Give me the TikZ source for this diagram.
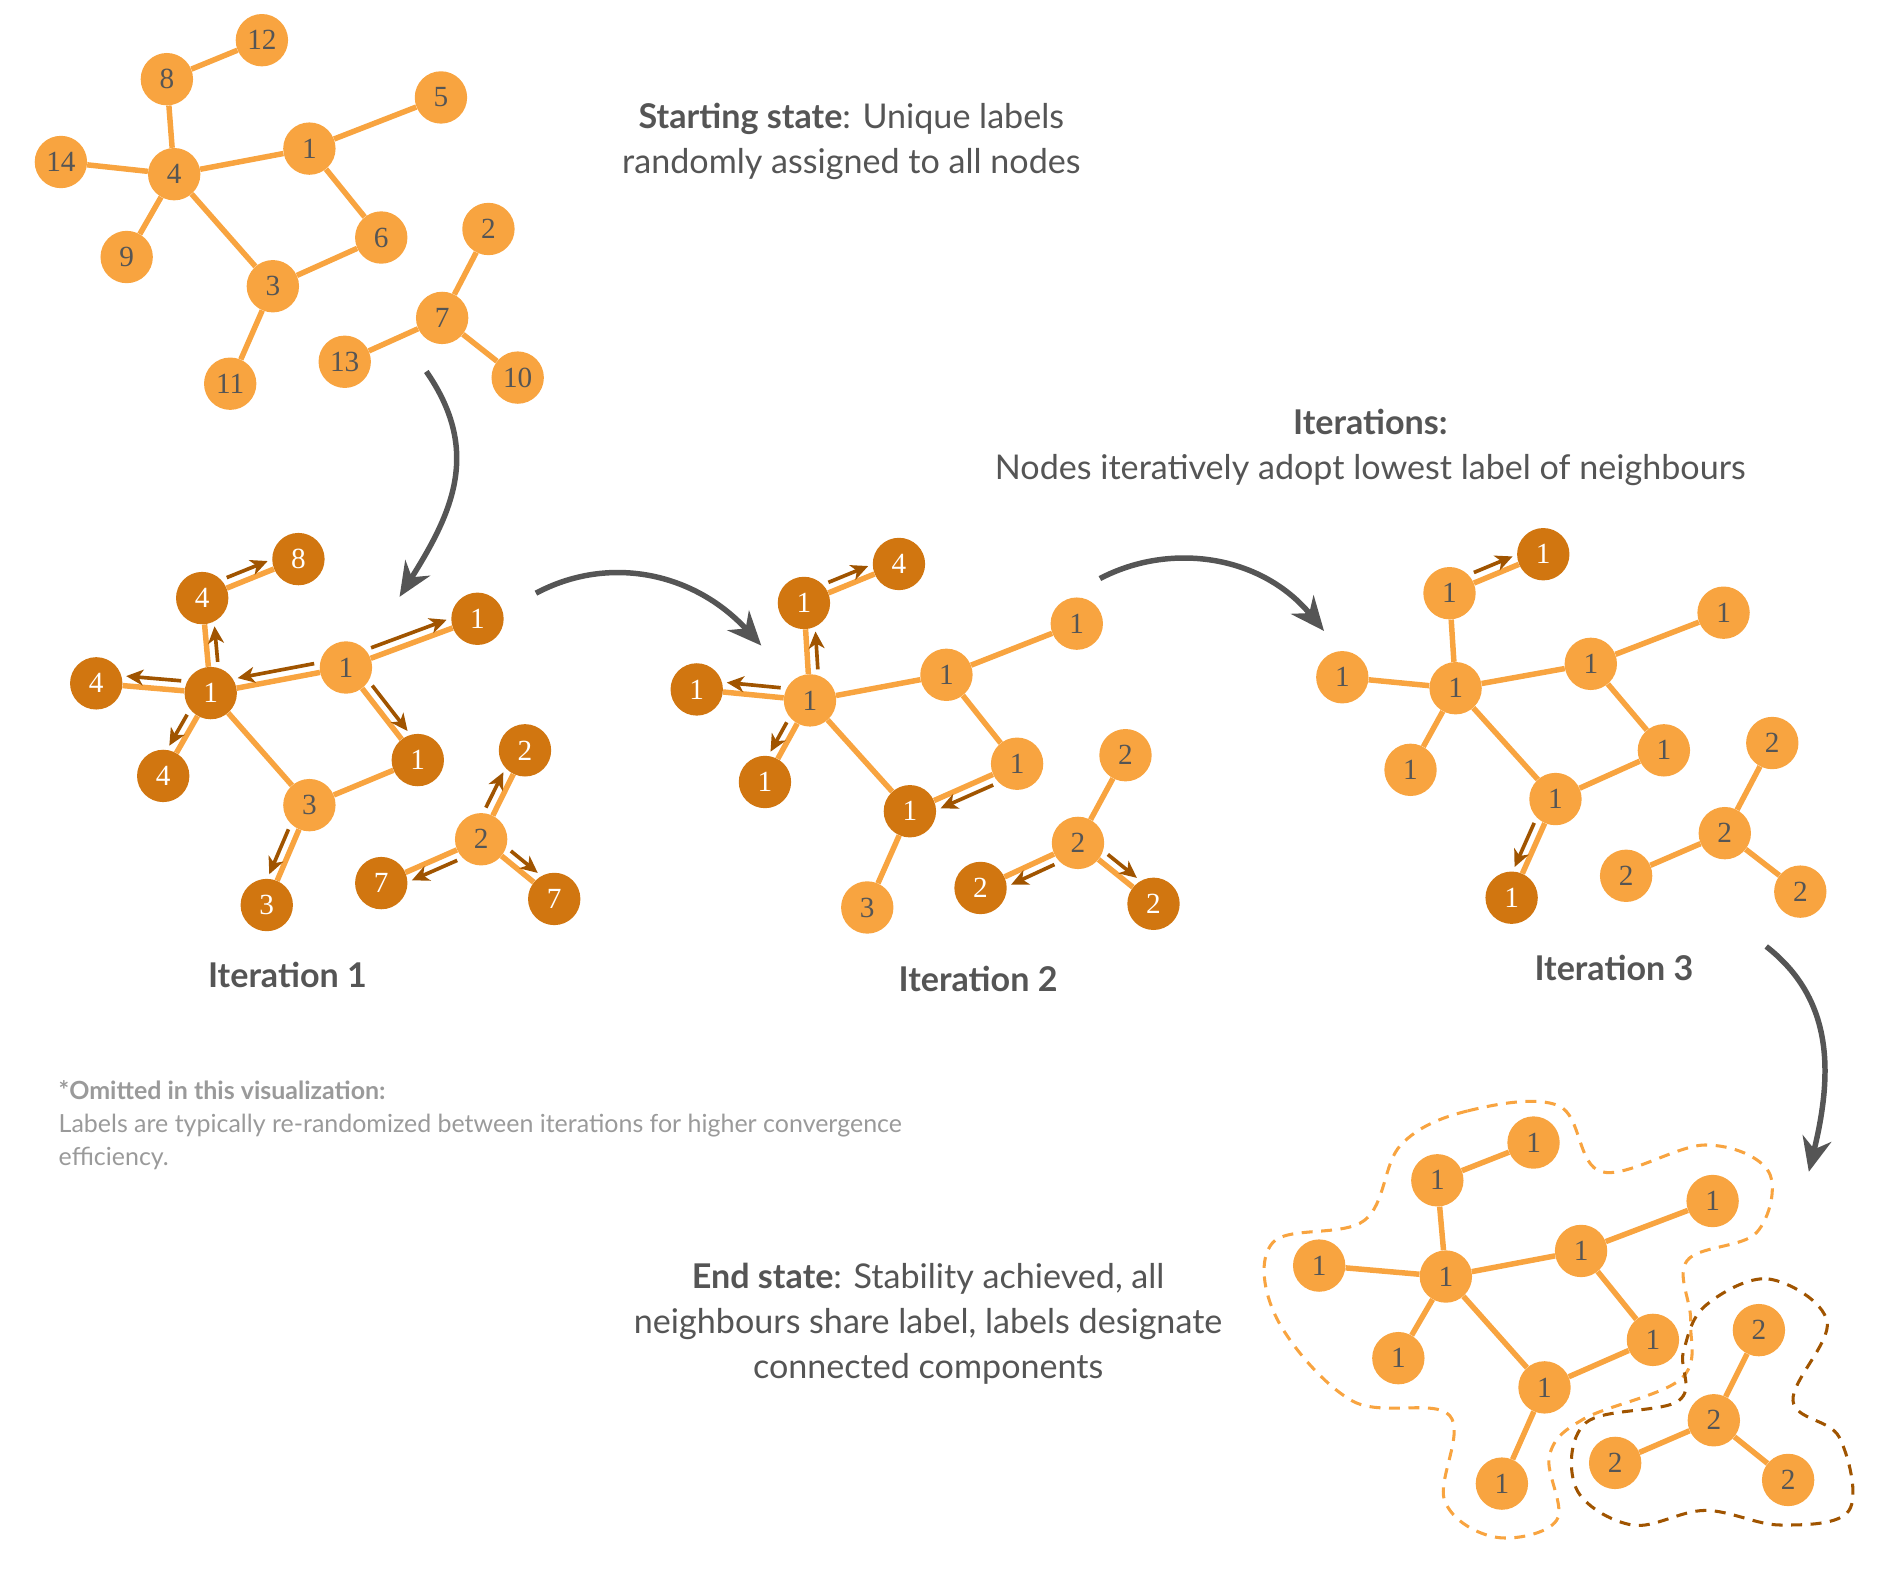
\documentclass[tikz,border=0pt]{standalone}
\usepackage{fontspec}
\setmainfont{Liberation Serif}
\newfontfamily\sff{Lato}
\usetikzlibrary{calc,arrows.meta}
\definecolor{lo}{HTML}{F8A440}
\definecolor{do}{HTML}{D17610}
\definecolor{br}{HTML}{A05400}
\definecolor{tg}{HTML}{555555}
\definecolor{fg}{HTML}{9A9A9A}
\tikzset{
 nd/.style={circle,minimum size=43pt,inner sep=0pt,font=\fontsize{24}{24}\selectfont},
 ln/.style={nd,fill=lo,text=tg},
 dn/.style={nd,fill=do,text=white},
 ed/.style={draw=lo,line width=4.5pt},
 marr/.style={draw=br,line width=3pt,-{Stealth[length=14pt,width=13pt,inset=4pt]}},
 big/.style={draw=tg,line width=4.5pt,-{Stealth[length=28pt,width=24pt,inset=9pt]}},
 lab/.style={font=\sff\fontsize{28}{37}\selectfont,text=tg,align=center},
 blab/.style={lab,font=\sff\bfseries\fontsize{28}{34}\selectfont},
}
\newcommand{\marrow}[3]{\draw[marr] ($(#1)!25pt!(#2)!#3*8pt!90:(#2)$) -- ($(#2)!24pt!(#1)!#3*8pt!-90:(#1)$);}
\begin{document}
\begin{tikzpicture}[x=1pt,y=-1pt]
\useasboundingbox (0,0) rectangle (1550,1295);
% ---- starting state
\foreach \n/\x/\y/\t in {s12/215/33/12,s8/137/65/8,s5/362/80/5,s14/50/133/14,s4/143/143/4,s1/254/122/1,s9/104/211/9,s6/313/195/6,s2/401/188/2,s3/224/235/3,s7/363/261/7,s13/283/297/13,s10/425/310/10,s11/189/315/11}
  \node[ln] (\n) at (\x,\y) {\t};
\foreach \a/\b in {s8/s12,s8/s4,s4/s14,s4/s1,s1/s5,s4/s9,s4/s3,s1/s6,s6/s3,s3/s11,s2/s7,s7/s13,s7/s10}
  \path[ed] (\a) -- (\b);
% ---- iteration 1
\node[dn] (a8) at (245,459) {8};
\node[dn] (a4t) at (166,491) {4};
\node[dn] (a1r) at (392,508) {1};
\node[dn] (a4l) at (79,561) {4};
\node[dn] (a1c) at (173,569) {1};
\node[ln] (a1b) at (284,548) {1};
\node[dn] (a4b) at (134,637) {4};
\node[dn] (a1s) at (343,624) {1};
\node[ln] (a3) at (254,661) {3};
\node[dn] (a2t) at (431,616) {2};
\node[ln] (a2c) at (395,689) {2};
\node[dn] (a7l) at (313,725) {7};
\node[dn] (a7r) at (455,738) {7};
\node[dn] (a3b) at (219,743) {3};
\foreach \a/\b in {a4t/a8,a1c/a4t,a1c/a4l,a1c/a4b,a1b/a1c,a1b/a1r,a1b/a1s,a1c/a3,a1s/a3,a3/a3b,a2c/a2t,a2c/a7l,a2c/a7r}
  \path[ed] (\a) -- (\b);
\marrow{a4t}{a8}{1}
\marrow{a1c}{a4t}{-1}
\marrow{a1c}{a4l}{-1}
\marrow{a1c}{a4b}{-1}
\marrow{a1b}{a1c}{-1}
\marrow{a1b}{a1r}{1}
\marrow{a1b}{a1s}{1}
\marrow{a3}{a3b}{-1}
\marrow{a2c}{a2t}{1}
\marrow{a2c}{a7l}{1}
\marrow{a2c}{a7r}{1}
% ---- iteration 2
\node[dn] (b4) at (738,463) {4};
\node[dn] (b1t) at (660,495) {1};
\node[ln] (b1r) at (884,512) {1};
\node[dn] (b1l) at (572,566) {1};
\node[ln] (b1c) at (665,575) {1};
\node[ln] (b1b) at (777,554) {1};
\node[dn] (b1o) at (628,642) {1};
\node[ln] (b1s) at (835,627) {1};
\node[dn] (b1m) at (747,666) {1};
\node[ln] (b2t) at (924,620) {2};
\node[ln] (b2c) at (885,692) {2};
\node[dn] (b2l) at (805,729) {2};
\node[dn] (b2r) at (947,742) {2};
\node[ln] (b3) at (712,745) {3};
\foreach \a/\b in {b1t/b4,b1c/b1t,b1c/b1l,b1c/b1o,b1b/b1c,b1b/b1r,b1b/b1s,b1c/b1m,b1s/b1m,b1m/b3,b2c/b2t,b2c/b2l,b2c/b2r}
  \path[ed] (\a) -- (\b);
\marrow{b1t}{b4}{1}
\marrow{b1c}{b1t}{-1}
\marrow{b1c}{b1l}{-1}
\marrow{b1c}{b1o}{-1}
\marrow{b1s}{b1m}{1}
\marrow{b2c}{b2l}{1}
\marrow{b2c}{b2r}{1}
% ---- iteration 3
\node[dn] (c4) at (1267,455) {1};
\node[ln] (c1t) at (1190,487) {1};
\node[ln] (c1r) at (1415,503) {1};
\node[ln] (c1l) at (1102,556) {1};
\node[ln] (c1c) at (1195,565) {1};
\node[ln] (c1b) at (1306,545) {1};
\node[ln] (c1o) at (1158,632) {1};
\node[ln] (c1s) at (1366,616) {1};
\node[ln] (c1m) at (1277,656) {1};
\node[ln] (c2t) at (1455,610) {2};
\node[ln] (c2c) at (1416,684) {2};
\node[ln] (c2l) at (1335,719) {2};
\node[ln] (c2r) at (1478,732) {2};
\node[dn] (c3) at (1241,737) {1};
\foreach \a/\b in {c1t/c4,c1c/c1t,c1c/c1l,c1c/c1o,c1b/c1c,c1b/c1r,c1b/c1s,c1c/c1m,c1s/c1m,c1m/c3,c2c/c2t,c2c/c2l,c2c/c2r}
  \path[ed] (\a) -- (\b);
\marrow{c1t}{c4}{1}
\marrow{c1m}{c3}{-1}
% ---- end state
\node[ln] (e4) at (1259,938) {1};
\node[ln] (e1t) at (1180,969) {1};
\node[ln] (e1r) at (1406,986) {1};
\node[ln] (e1l) at (1083,1039) {1};
\node[ln] (e1c) at (1187,1048) {1};
\node[ln] (e1b) at (1298,1027) {1};
\node[ln] (e1o) at (1148,1115) {1};
\node[ln] (e1s) at (1357,1100) {1};
\node[ln] (e1m) at (1268,1139) {1};
\node[ln] (e2t) at (1444,1092) {2};
\node[ln] (e2c) at (1407,1166) {2};
\node[ln] (e2l) at (1326,1201) {2};
\node[ln] (e2r) at (1468,1215) {2};
\node[ln] (e3) at (1233,1218) {1};
\foreach \a/\b in {e1t/e4,e1c/e1t,e1c/e1l,e1c/e1o,e1b/e1c,e1b/e1r,e1b/e1s,e1c/e1m,e1s/e1m,e1m/e3,e2c/e2t,e2c/e2l,e2c/e2r}
  \path[ed] (\a) -- (\b);
\draw[lo,line width=2.5pt,dash pattern=on 9pt off 7pt] plot[smooth cycle,tension=0.6] coordinates {(1150,940)(1205,912)(1280,908)(1315,962)(1400,940)(1452,962)(1442,1012)(1385,1035)(1388,1085)(1380,1132)(1300,1165)(1272,1195)(1278,1248)(1228,1262)(1186,1232)(1190,1162)(1110,1150)(1048,1082)(1045,1020)(1120,1002)};
\draw[br,line width=2.5pt,dash pattern=on 9pt off 7pt] plot[smooth cycle,tension=0.6] coordinates {(1400,1072)(1452,1050)(1500,1085)(1472,1150)(1510,1180)(1518,1240)(1462,1252)(1400,1240)(1340,1252)(1294,1222)(1302,1168)(1378,1150)(1382,1110)};
% ---- big arrows
\coordinate (g1s) at (350,305); \coordinate (g1e) at (328,490);
\coordinate (g2s) at (440,487); \coordinate (g2e) at (625,530);
\coordinate (g3s) at (903,475); \coordinate (g3e) at (1087,518);
\coordinate (g4s) at (1450,777); \coordinate (g4e) at (1485,962);
\draw[big] (g1s) .. controls (395,370) and (372,420) .. (g1e);
\draw[big] (g2s) .. controls (500,455) and (570,470) .. (g2e);
\draw[big] (g3s) .. controls (960,445) and (1035,455) .. (g3e);
\draw[big] (g4s) .. controls (1505,820) and (1505,880) .. (g4e);
% ---- texts
\node[lab] (t1) at (699,116) {\textbf{Starting state}: Unique labels\\randomly assigned to all nodes};
\node[lab] (t2) at (1125,367) {\textbf{Iterations:}\\Nodes iteratively adopt lowest label of neighbours};
\node[lab] (t3) at (762,1087) {\textbf{End state}: Stability achieved, all\\neighbours share label, labels designate\\connected components};
\node[blab] (i1) at (236,800) {Iteration 1};
\node[blab] (i2) at (803,804) {Iteration 2};
\node[blab] (i3) at (1325,795) {Iteration 3};
\node[anchor=north west,align=left,text=fg,font=\sff\fontsize{20.5}{27}\selectfont,inner sep=0pt] (fn) at (48,887) {\textbf{*Omitted in this visualization:}\\Labels are typically re-randomized between iterations for higher convergence\\efficiency.};
\end{tikzpicture}
\end{document}
